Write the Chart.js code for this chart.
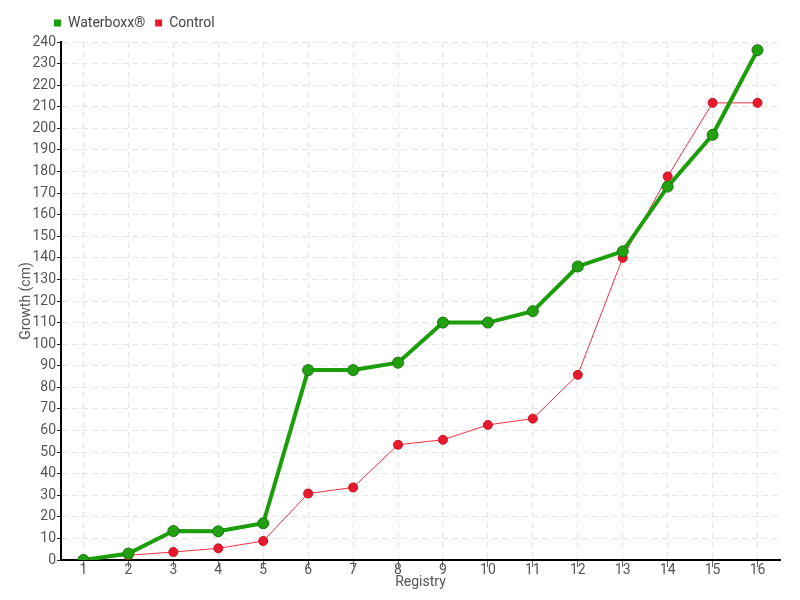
<!DOCTYPE html>
<html><head><meta charset="utf-8">
<script src="https://cdn.jsdelivr.net/npm/chart.js@4/dist/chart.umd.min.js"></script>
<style>html,body{margin:0;padding:0;background:#fff}#wrap{width:800px;height:600px}</style>
</head><body><div id="wrap"><canvas id="c" width="800" height="600"></canvas></div>
<script>
const categories = ['1','2','3','4','5','6','7','8','9','10','11','12','13','14','15','16'];
const waterboxx = [0, 3, 13.4, 13.3, 17, 88, 88, 91.4, 110, 110, 115.3, 136, 143, 173, 197, 236.2];
const control = [0, 2.2, 3.7, 5.4, 8.8, 30.8, 33.6, 53.4, 55.7, 62.6, 65.5, 85.8, 140, 177.7, 211.8, 211.8];
const FONT = "Roboto, 'Liberation Sans', sans-serif";
Chart.defaults.font.family = FONT;
const shiftLegend = {
  id: 'shiftLegend',
  afterLayout(chart) { if (chart.legend) { chart.legend.left += 40; chart.legend.top -= 2; } }
};
new Chart(document.getElementById('c'), {
  type: 'line',
  data: {
    labels: categories,
    datasets: [
      { label: 'Waterboxx®', data: waterboxx, borderColor: '#1c9e0b', backgroundColor: '#1c9e0b',
        pointBackgroundColor: '#23a012', pointBorderColor: '#157a08', pointBorderWidth: 1,
        borderWidth: 4, pointRadius: 5.5, tension: 0, fill: false },
      { label: 'Control', data: control, borderColor: '#f0303f', backgroundColor: '#e8192c',
        pointBackgroundColor: '#e8192c', pointBorderColor: '#c8101f', pointBorderWidth: 1,
        borderWidth: 1, pointRadius: 4.5, tension: 0, fill: false }
    ]
  },
  plugins: [shiftLegend],
  options: {
    responsive: false, animation: false,
    layout: { padding: { left: 4, right: 20, top: 8, bottom: 0 } },
    plugins: {
      legend: { position: 'top', align: 'start',
        labels: { boxWidth: 7, boxHeight: 7, padding: 10, color: '#444', font: { size: 14 },
          generateLabels(chart) {
            return Chart.defaults.plugins.legend.labels.generateLabels(chart).map(l => Object.assign(l, { lineWidth: 0, strokeStyle: 'rgba(0,0,0,0)' }));
          } } },
      tooltip: { enabled: false }
    },
    scales: {
      x: {
        offset: true,
        afterFit(s) { s.height = 40; },
        grid: { color: '#e6e6e6', lineWidth: 1, offset: false, tickColor: '#666', tickLength: 7 },
        border: { color: '#000', width: 2, dash: [6, 4] },
        ticks: { color: '#555', font: { size: 14 }, padding: -5 },
        title: { display: true, text: 'Registry', color: '#555', font: { size: 14 }, padding: { top: 0, bottom: 9 } }
      },
      y: {
        min: 0, max: 240,
        afterFit(s) { s.width = 57; },
        grid: { color: '#e6e6e6', lineWidth: 1, tickColor: '#222', tickLength: 4 },
        border: { color: '#000', width: 2, dash: [6, 4] },
        ticks: { stepSize: 10, color: '#555', font: { size: 14 }, padding: 1 },
        title: { display: true, text: 'Growth (cm)', color: '#555', font: { size: 14 }, padding: { top: 14, bottom: 2 } }
      }
    }
  }
});
</script></body></html>
